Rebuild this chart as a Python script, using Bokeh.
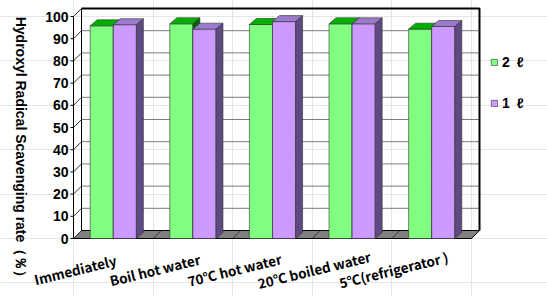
import math
from bokeh.plotting import figure
from bokeh.models import Range1d, Legend, LegendItem
from bokeh.embed import file_html
from bokeh.resources import INLINE
from bokeh.core.properties import value

# ---------------- data ----------------
categories = ["Immediately", "Boil hot water", "70\u2103 hot water",
              "20\u2103 boiled water", "5\u2103(refrigerator )"]
two_l = [95.8, 96.7, 96.4, 96.7, 94.3]
one_l = [96.3, 94.3, 97.7, 96.7, 95.5]
series_names = ["2\u2002\u2113", "1\u2002\u2113"]
y_ticks = [0, 10, 20, 30, 40, 50, 60, 70, 80, 90, 100]
y_title = "Hydroxyl Radical Scavenging rate\uff08\uff05\uff09"

# ---------------- geometry (px) ----------------
W, H = 547, 296
AX = 73                                # px of the value axis (front-left edge)
PX_X = 79.6                            # px per category
PX_Y = 2.22                            # px per value unit
Y0 = 238                               # px (from top) of value 0
n = len(categories)
x_start, x_end = -AX / PX_X, (W - AX) / PX_X
y_start, y_end = -(H - Y0) / PX_Y, Y0 / PX_Y
wdx, wdy = 8 / PX_X, 8 / PX_Y          # wall depth
bdx, bdy = 7 / PX_X, 6 / PX_Y          # bar depth
bw = 0.29                              # bar width (category units)

p = figure(width=W, height=H, x_range=Range1d(x_start, x_end), y_range=Range1d(y_start, y_end),
           output_backend="svg", toolbar_location=None,
           x_axis_location=None, y_axis_location=None,
           min_border_left=0, min_border_right=0, min_border_top=0, min_border_bottom=0)
p.outline_line_color = None
p.background_fill_color = "white"
p.border_fill_color = "white"

# floor
p.patch([0, n, n + wdx, wdx], [0, 0, wdy, wdy], fill_color="#808080",
        line_color="black", line_width=1)
p.segment(x0=[k for k in range(1, n)], y0=[0] * (n - 1),
          x1=[k + wdx for k in range(1, n)], y1=[wdy] * (n - 1),
          line_color="#333333", line_width=1)

# back wall gridlines
inner = y_ticks[1:-1]
p.segment(x0=[wdx] * len(inner), y0=[v + wdy for v in inner],
          x1=[n + wdx] * len(inner), y1=[v + wdy for v in inner],
          line_color="#7a7a7a", line_width=1)
# left wall diagonals
p.segment(x0=[0] * len(y_ticks), y0=y_ticks,
          x1=[wdx] * len(y_ticks), y1=[v + wdy for v in y_ticks],
          line_color="#333333", line_width=1)
# back wall border
ymax = y_ticks[-1]
p.line([wdx, wdx], [wdy, ymax + wdy], line_color="black", line_width=1)
p.line([wdx, n + wdx, n + wdx], [ymax + wdy, ymax + wdy, wdy], line_color="black", line_width=2)

# bars
styles = [
    dict(front="#80FF80", top="#00B000", side="#006400"),
    dict(front="#CC99FF", top="#9A7ACC", side="#5E4A82"),
]
front_renderers = []
for s, vals in enumerate([two_l, one_l]):
    st = styles[s]
    lefts = [i + 0.5 - bw + s * bw for i in range(n)]
    rights = [l + bw for l in lefts]
    r = p.quad(left=lefts, right=rights, bottom=[0] * n, top=vals,
               fill_color=st["front"], line_color="#303030", line_width=0.6)
    front_renderers.append(r)
    p.patches(xs=[[l, rr, rr + bdx, l + bdx] for l, rr in zip(lefts, rights)],
              ys=[[v, v, v + bdy, v + bdy] for v in vals],
              fill_color=st["top"], line_color="#303030", line_width=0.6)
    p.patches(xs=[[rr, rr + bdx, rr + bdx, rr] for rr in rights],
              ys=[[0, bdy, v + bdy, v] for v in vals],
              fill_color=st["side"], line_color="#303030", line_width=0.6)

# value axis: line, ticks, tick labels (placed through the data scales)
p.segment(x0=[0], y0=[y_ticks[0]], x1=[0], y1=[ymax], line_color="black", line_width=1)
p.segment(x0=[-3 / PX_X] * len(y_ticks), y0=y_ticks, x1=[0] * len(y_ticks), y1=y_ticks,
          line_color="black", line_width=1)
p.text(x=[-5 / PX_X] * len(y_ticks), y=y_ticks, text=[str(v) for v in y_ticks],
       text_align="right", text_baseline="middle",
       text_font=value("Liberation Sans"), text_font_style="bold",
       text_font_size="14px", text_color="black")

# value-axis title (reads top to bottom)
p.text(x=[(20 - AX) / PX_X], y=[(Y0 - 150) / PX_Y], text=[y_title], angle=-math.pi / 2,
       text_align="center", text_baseline="middle",
       text_font=value("Liberation Sans"), text_font_style="bold",
       text_font_size="14px", text_color="black")

# category labels (rotated, below the floor)
p.text(x=[i + 0.5 - 38 / PX_X for i in range(n)], y=[-(269 - Y0) / PX_Y] * n,
       text=categories, angle=0.24, text_align="center", text_baseline="middle",
       text_font=value("Noto Sans CJK JP"), text_font_style="bold",
       text_font_size="13.5px", text_color="black")

# legend
legend = Legend(items=[LegendItem(label=series_names[i], renderers=[front_renderers[i]])
                       for i in range(2)],
                location=(490, H - 111.5), orientation="vertical",
                glyph_width=8, glyph_height=8, label_height=17, label_standoff=4,
                spacing=24, padding=0, margin=0, border_line_color=None,
                background_fill_alpha=0,
                label_text_font="Liberation Sans", label_text_font_style="bold",
                label_text_font_size="14px", label_text_color="black")
p.add_layout(legend)

open("out.html", "w").write(file_html(p, INLINE))
